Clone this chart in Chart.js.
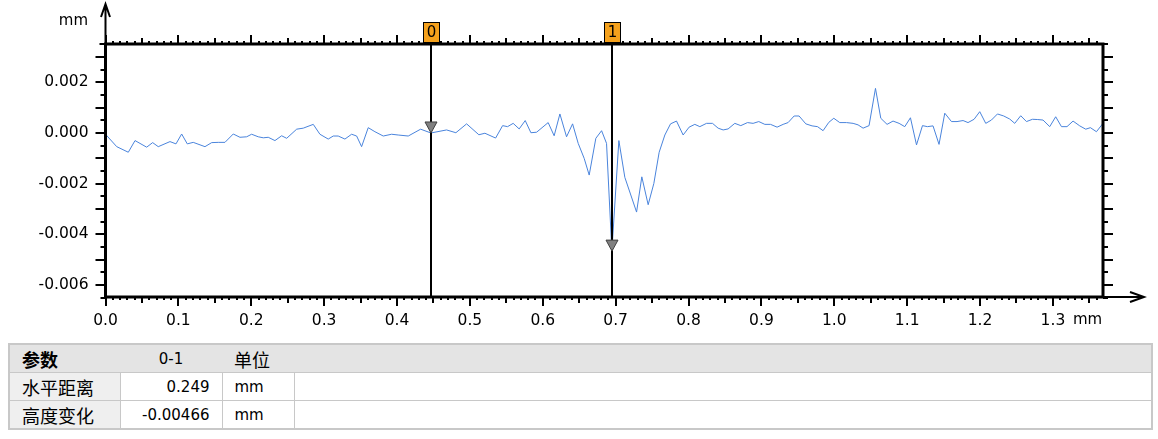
<!DOCTYPE html>
<html>
<head>
<meta charset="utf-8">
<script src="https://cdn.jsdelivr.net/npm/chart.js@4.4.1/dist/chart.umd.min.js"></script>
<style>
  body { margin: 0; background: #fff; font-family: "DejaVu Sans", "Noto Sans CJK SC", sans-serif; }
  #wrap { position: relative; width: 1158px; height: 335px; }
  table { position: absolute; left: 8px; top: 343px; width: 1145px; border-collapse: collapse;
          font-size: 15px; color: #000; border: 2px solid #c8c8c8; }
  td { height: 27px; padding: 0 12px; border: 1px solid #c8c8c8; white-space: nowrap; }
  tr.head td { background: #e4e4e4; border-left: none; border-right: none; }
  td.name { background: #efefef; }
  .cjk { font-family: "Noto Sans CJK SC", sans-serif; font-size: 18px; }
  .num { text-align: right; }
</style>
</head>
<body>
<div id="wrap"><canvas id="profile" width="1158" height="335"></canvas></div>
<table>
  <tr class="head"><td style="width:86px" class="cjk"><b>参数</b></td><td style="width:78px;text-align:center">0-1</td><td style="width:48px" class="cjk">单位</td><td></td></tr>
  <tr><td class="name cjk">水平距离</td><td class="num">0.249</td><td>mm</td><td></td></tr>
  <tr><td class="name cjk">高度变化</td><td class="num">-0.00466</td><td>mm</td><td></td></tr>
</table>
<script>
(function() {
	'use strict';

	// profile samples, mm
	var profileX = [
		0, 0.0154, 0.0313, 0.0405, 0.0565, 0.0647, 0.0724, 0.0885, 0.0967, 0.1045,
		0.1122, 0.1204, 0.1365, 0.1457, 0.1547, 0.1639, 0.1753, 0.1845, 0.1937, 0.2005,
		0.2096, 0.2165, 0.2233, 0.2325, 0.2417, 0.2486, 0.2623, 0.2713, 0.2851, 0.2942,
		0.3056, 0.3125, 0.3193, 0.3285, 0.3377, 0.3446, 0.3514, 0.3605, 0.3697, 0.3811,
		0.3926, 0.4016, 0.4154, 0.4324, 0.4465, 0.4680, 0.4808, 0.4955, 0.5123, 0.5206,
		0.5353, 0.5449, 0.5517, 0.5594, 0.5676, 0.5759, 0.5837, 0.5915, 0.6074, 0.6156,
		0.6235, 0.6326, 0.6409, 0.6486, 0.6568, 0.6637, 0.6728, 0.6807, 0.6875, 0.6948,
		0.7044, 0.7126, 0.7287, 0.7359, 0.7446, 0.7524, 0.7597, 0.7675, 0.7753, 0.7835,
		0.7926, 0.8008, 0.8086, 0.8155, 0.8247, 0.8329, 0.8406, 0.8475, 0.8543, 0.8635,
		0.8717, 0.8809, 0.8886, 0.8964, 0.9047, 0.9125, 0.9215, 0.9298, 0.9366, 0.9449,
		0.9517, 0.9609, 0.9695, 0.9770, 0.9846, 0.9925, 0.9993, 1.0075, 1.0167, 1.0258,
		1.0326, 1.0395, 1.0477, 1.0565, 1.0638, 1.0724, 1.0806, 1.0889, 1.0967, 1.1045,
		1.1128, 1.1210, 1.1278, 1.1355, 1.1437, 1.1516, 1.1608, 1.1684, 1.1767, 1.1835,
		1.1918, 1.1996, 1.2078, 1.2156, 1.2239, 1.2325, 1.2407, 1.2476, 1.2558, 1.2637,
		1.2719, 1.2792, 1.2864, 1.2956, 1.3038, 1.3117, 1.3193, 1.3276, 1.3368, 1.3450,
		1.3514, 1.3597, 1.3687
	];
	var profileY = [
		-0.00005, -0.00054, -0.00076, -0.00030, -0.00056, -0.00038, -0.00054, -0.00034, -0.00043, -0.00004,
		-0.00043, -0.00037, -0.00054, -0.00038, -0.00037, -0.00037, -0.00004, -0.00017, -0.00015, -0.00005,
		-0.00015, -0.00019, -0.00017, -0.00030, -0.00011, -0.00021, 0.00015, 0.00019, 0.00034, -0.00005,
		-0.00024, -0.00012, -0.00012, -0.00024, -0.00005, -0.00012, -0.00054, 0.00021, 0.00005, -0.00012,
		-0.00005, -0.00008, -0.00012, 0.00015, 0.00000, 0.00012, 0.00001, 0.00036, -0.00007, -0.00001,
		-0.00020, 0.00029, 0.00025, 0.00038, 0.00016, 0.00049, 0.00001, 0.00003, 0.00041, -0.00011,
		0.00075, -0.00015, 0.00036, -0.00041, -0.00100, -0.00166, -0.00021, 0.00009, -0.00041, -0.00466,
		-0.00030, -0.00175, -0.00312, -0.00173, -0.00283, -0.00199, -0.00076, -0.00008, 0.00036, 0.00047,
		-0.00008, 0.00023, 0.00034, 0.00025, 0.00038, 0.00038, 0.00019, 0.00012, 0.00016, 0.00038,
		0.00029, 0.00041, 0.00038, 0.00045, 0.00034, 0.00034, 0.00023, 0.00034, 0.00041, 0.00067,
		0.00067, 0.00036, 0.00028, 0.00025, 0.00009, 0.00042, 0.00058, 0.00041, 0.00041, 0.00038,
		0.00032, 0.00019, 0.00029, 0.00176, 0.00058, 0.00034, 0.00047, 0.00038, 0.00025, 0.00060,
		-0.00047, 0.00029, 0.00025, 0.00028, -0.00045, 0.00078, 0.00045, 0.00045, 0.00049, 0.00041,
		0.00054, 0.00084, 0.00038, 0.00051, 0.00075, 0.00067, 0.00055, 0.00038, 0.00068, 0.00045,
		0.00054, 0.00053, 0.00051, 0.00025, 0.00064, 0.00025, 0.00025, 0.00047, 0.00028, 0.00015,
		0.00021, 0.00005, 0.00038
	];

	// cursors
	var cursorNames = ['0', '1'];
	var cursorX = [0.4465, 0.6948];
	var cursorY = [0.0000, -0.00466];

	// axes
	var xMin = 0, xMax = 1.3687;
	var yMin = -0.00647, yMax = 0.00351;
	var xTickValues = [0, 0.1, 0.2, 0.3, 0.4, 0.5, 0.6, 0.7, 0.8, 0.9, 1.0, 1.1, 1.2, 1.3];
	var yTickValues = [-0.006, -0.004, -0.002, 0, 0.002];

	var points = profileX.map(function(x, i) { return { x: x, y: profileY[i] }; });

	var frame = {
		id: 'frame',
		afterDatasetsDraw: function(chart) {
			var ctx = chart.ctx, a = chart.chartArea;
			var xs = chart.scales.x, ys = chart.scales.y;
			var i, px, py, len;
			ctx.save();
			ctx.strokeStyle = '#000';
			ctx.fillStyle = '#000';

			// x ticks, top and bottom
			ctx.lineWidth = 2;
			ctx.beginPath();
			for (i = 0; i <= 136; i++) {
				px = Math.round(xs.getPixelForValue(i / 100));
				len = i % 10 === 0 ? 9 : (i % 5 === 0 ? 6 : 3);
				ctx.moveTo(px, a.top); ctx.lineTo(px, a.top - len);
				ctx.moveTo(px, a.bottom); ctx.lineTo(px, a.bottom + len);
			}
			// y ticks, left and right
			for (i = -13; i <= 7; i++) {
				py = Math.round(ys.getPixelForValue(i * 0.0005));
				len = i % 2 === 0 ? 10 : 5;
				ctx.moveTo(a.left, py); ctx.lineTo(a.left - len, py);
				ctx.moveTo(a.right, py); ctx.lineTo(a.right + len, py);
			}
			ctx.moveTo(a.left - 6, a.top); ctx.lineTo(a.left, a.top);
			ctx.stroke();

			// cursor lines
			ctx.lineWidth = 2;
			ctx.beginPath();
			cursorX.forEach(function(cx) {
				px = Math.round(xs.getPixelForValue(cx));
				ctx.moveTo(px, a.top); ctx.lineTo(px, a.bottom);
			});
			ctx.stroke();

			// box
			ctx.lineWidth = 3;
			ctx.strokeRect(a.left, a.top, a.right - a.left, a.bottom - a.top);

			// arrows
			ctx.lineWidth = 2;
			ctx.beginPath();
			ctx.moveTo(a.left, a.top); ctx.lineTo(a.left, 4);
			ctx.moveTo(a.left - 4.5, 17); ctx.lineTo(a.left, 4); ctx.lineTo(a.left + 4.5, 17);
			ctx.moveTo(a.right, a.bottom); ctx.lineTo(1144, a.bottom);
			ctx.moveTo(1130, a.bottom - 5); ctx.lineTo(1144, a.bottom); ctx.lineTo(1130, a.bottom + 5);
			ctx.stroke();

			// unit labels
			ctx.font = '15px "DejaVu Sans"';
			ctx.textBaseline = 'middle';
			ctx.textAlign = 'right';
			ctx.fillText('mm', 88, 21);
			ctx.textAlign = 'left';
			ctx.fillText('mm', 1073, 320);

			// cursor markers
			cursorX.forEach(function(cx, k) {
				px = Math.round(xs.getPixelForValue(cx));
				py = ys.getPixelForValue(cursorY[k]);
				ctx.fillStyle = '#808080';
				ctx.strokeStyle = '#404040';
				ctx.lineWidth = 1;
				ctx.beginPath();
				ctx.moveTo(px - 6, py - 11); ctx.lineTo(px + 6, py - 11); ctx.lineTo(px, py);
				ctx.closePath();
				ctx.fill(); ctx.stroke();

				ctx.fillStyle = '#f5a11c';
				ctx.fillRect(px - 8, a.top - 22, 17, 21);
				ctx.strokeStyle = '#000';
				ctx.strokeRect(px - 8 + 0.5, a.top - 22 + 0.5, 16, 20);
				ctx.fillStyle = '#000';
				ctx.textAlign = 'center';
				ctx.fillText(cursorNames[k], px + 0.5, a.top - 11);
			});
			ctx.restore();
		}
	};

	var ctx = document.getElementById('profile').getContext('2d');
	new Chart(ctx, {
		type: 'line',
		data: {
			datasets: [{
				data: points,
				borderColor: '#4a84dc',
				borderWidth: 1,
				pointRadius: 0,
				tension: 0,
				fill: false
			}]
		},
		options: {
			responsive: false,
			animation: false,
			devicePixelRatio: 1,
			layout: { padding: { left: 0, right: 55, top: 44, bottom: 0 } },
			plugins: {
				legend: { display: false },
				tooltip: { enabled: false }
			},
			scales: {
				x: {
					type: 'linear',
					min: xMin,
					max: xMax,
					grid: { display: false, drawTicks: false },
					border: { display: false },
					afterBuildTicks: function(s) {
						s.ticks = xTickValues.map(function(v) { return { value: v }; });
					},
					afterFit: function(s) { s.height = 38; },
					ticks: {
						padding: 15,
						color: '#000',
						maxRotation: 0,
						autoSkip: false,
						font: { size: 15.5, family: '"DejaVu Sans"' },
						callback: function(v) { return Number(v).toFixed(1); }
					}
				},
				y: {
					min: yMin,
					max: yMax,
					grid: { display: false, drawTicks: false },
					border: { display: false },
					afterBuildTicks: function(s) {
						s.ticks = yTickValues.map(function(v) { return { value: v }; });
					},
					afterFit: function(s) { s.width = 105.5; },
					ticks: {
						padding: 17,
						color: '#000',
						font: { size: 15.5, family: '"DejaVu Sans"' },
						callback: function(v) { return Number(v).toFixed(3); }
					}
				}
			}
		},
		plugins: [frame]
	});
})();
</script>
</body>
</html>
